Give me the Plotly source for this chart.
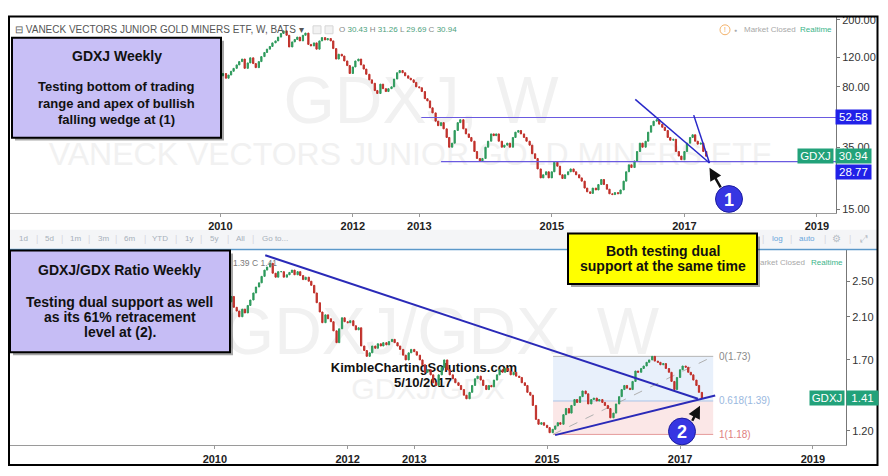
import math
import pandas as pd
import plotly.graph_objects as go

# ---------------- data ----------------
gdxj_first_open = 90
gdxj_close = [
    92, 98, 88,
    93, 96, 90, 94, 99, 103, 108, 113, 117, 103, 111, 119, 110, 104, 113, 121, 128, 134, 139, 146, 150, 158, 166, 172,
    162, 138, 148, 153, 158, 150, 162, 167, 143, 140, 146, 134, 150, 157, 152, 155, 150, 135, 117, 125, 122, 114, 107, 96,
    105, 114, 117, 108, 102, 95, 88, 84, 76, 73, 83, 78, 75, 78, 80, 89, 97, 100, 97, 93, 90, 88, 85, 80,
    79, 75, 68, 66, 60, 56, 50, 47, 49, 45, 40, 35, 37, 44, 49, 51, 45, 42, 40, 38, 33, 30, 29, 30,
    35, 38, 42, 41, 42, 38, 35, 36, 37, 35, 40, 43, 44, 42, 40, 38, 36, 32, 30, 26, 23, 24, 25, 23,
    25, 28.5, 27, 24, 22.8, 24, 25, 26, 25, 24, 23, 22, 20, 19, 18.6, 20, 19.5, 21, 22.5, 21, 19.7, 18.5, 18.3, 18.8,
    18.5, 19.5, 22, 25, 27.5, 26.5, 29, 33, 37, 35, 38, 43, 47, 50, 51, 48, 46, 44, 40, 38.5, 39, 33, 31, 29.5,
    33, 37, 40, 41.5, 38, 36.5, 37, 33, 30.94,
]

ratio_first_open = 2.28
ratio_close = [
    2.30, 2.38, 2.25,
    2.32, 2.40, 2.28, 2.34, 2.30, 2.26, 2.32, 2.20, 2.16, 2.10, 2.18, 2.14, 2.22, 2.28, 2.36, 2.43, 2.48, 2.56, 2.64, 2.68, 2.73, 2.60, 2.55, 2.62,
    2.62, 2.55, 2.58, 2.61, 2.64, 2.58, 2.62, 2.57, 2.52, 2.55, 2.50, 2.45, 2.36, 2.25, 2.15, 2.04, 2.12, 2.08, 2.05, 1.96, 1.85, 1.98, 2.09, 2.05,
    2.04, 2.06, 2.01, 1.97, 1.99, 1.82, 1.78, 1.73, 1.76, 1.82, 1.80, 1.84, 1.82, 1.85, 1.83, 1.86, 1.88, 1.85, 1.82, 1.79, 1.74, 1.70, 1.76, 1.79,
    1.77, 1.74, 1.70, 1.66, 1.60, 1.62, 1.58, 1.52, 1.50, 1.58, 1.64, 1.70, 1.62, 1.58, 1.55, 1.52, 1.50, 1.47, 1.43, 1.405, 1.45, 1.50, 1.55, 1.57,
    1.54, 1.50, 1.47, 1.50, 1.49, 1.54, 1.58, 1.62, 1.60, 1.63, 1.61, 1.58, 1.60, 1.57, 1.56, 1.52, 1.50, 1.45, 1.43, 1.36, 1.27, 1.24, 1.25, 1.234,
    1.22, 1.19, 1.21, 1.23, 1.25, 1.24, 1.30, 1.34, 1.31, 1.36, 1.40, 1.38, 1.42, 1.46, 1.44, 1.37, 1.40, 1.41, 1.39, 1.40, 1.38, 1.36, 1.34, 1.28,
    1.31, 1.37, 1.42, 1.47, 1.50, 1.48, 1.47, 1.53, 1.61, 1.60, 1.63, 1.65, 1.68, 1.70, 1.73, 1.69, 1.68, 1.66, 1.67, 1.63, 1.60, 1.53, 1.47, 1.56,
    1.62, 1.65, 1.64, 1.60, 1.58, 1.54, 1.50, 1.45, 1.41,
]
first_bar = '2009-11-15'

year_ticks = ['2010-01-01', '2012-01-01', '2013-01-01', '2015-01-01', '2017-01-01', '2019-01-01']
year_labels = ['2010', '2012', '2013', '2015', '2017', '2019']
gdxj_ticks = [15, 25, 35, 80, 120, 200]
ratio_ticks = [1.20, 1.70, 2.10, 2.50]

range_levels = [52.58, 28.77]
range_starts = ['2013-01-12', '2013-05-01']
wedge_a_x, wedge_a_y = ['2016-04-05', '2017-05-19'], [67.4, 28.2]
wedge_b_x, wedge_b_y = ['2017-02-21', '2017-05-19'], [54.3, 28.2]
ratio_down_x, ratio_down_y = ['2010-10-05', '2017-04-09'], [2.84, 1.405]
ratio_up_x, ratio_up_y = ['2015-02-14', '2017-07-13'], [1.176, 1.428]
fib_levels = [1.73, 1.39, 1.18]
fib_names = ['0', '0.618', '1']
fib_x = ['2015-02-03', '2017-07-02']
fib_label_x = '2017-07-22'
last_gdxj = 30.94
last_ratio = 1.41

# ---------------- helpers ----------------
# the page body has an 8px margin, so the figure is 880x468 and sits at (8, 8)
OFF = 8
W, H = 888 - OFF, 476 - OFF
FONT = 'Arial, Liberation Sans, sans-serif'
GREEN = '#2e9a5c'
RED = '#c0302a'


def px(x):
    return (x - OFF) / W


def py(y):
    return 1 - (y - OFF) / H


def ohlc(first_open, closes):
    opens = [first_open] + closes[:-1]
    highs = [max(o, c) for o, c in zip(opens, closes)]
    lows = [min(o, c) for o, c in zip(opens, closes)]
    return opens, highs, lows


fig = go.Figure()

d1 = pd.date_range(first_bar, periods=len(gdxj_close), freq='SMS')
o1, h1, l1 = ohlc(gdxj_first_open, gdxj_close)
d2 = pd.date_range(first_bar, periods=len(ratio_close), freq='SMS')
o2, h2, l2 = ohlc(ratio_first_open, ratio_close)

for d, o, h, l, c, xa, ya in [(d1, o1, h1, l1, gdxj_close, 'x', 'y'), (d2, o2, h2, l2, ratio_close, 'x2', 'y2')]:
    fig.add_trace(go.Candlestick(
        x=d, open=o, high=h, low=l, close=c, xaxis=xa, yaxis=ya,
        increasing=dict(line=dict(color=GREEN, width=1), fillcolor=GREEN),
        decreasing=dict(line=dict(color=RED, width=1), fillcolor=RED),
        whiskerwidth=0, showlegend=False, hoverinfo='skip'))

# trading range lines (upper)
for lvl, st in zip(range_levels, range_starts):
    fig.add_trace(go.Scatter(x=[st, '2019-04-16'], y=[lvl, lvl], mode='lines', xaxis='x', yaxis='y',
                             line=dict(color='#6a5ae0', width=1.2), showlegend=False, hoverinfo='skip'))
# wedge lines
for xs, ys in [(wedge_a_x, wedge_a_y), (wedge_b_x, wedge_b_y)]:
    fig.add_trace(go.Scatter(x=xs, y=ys, mode='lines', xaxis='x', yaxis='y',
                             line=dict(color='#2828c8', width=1.5), showlegend=False, hoverinfo='skip'))
# ratio trendlines
for xs, ys in [(ratio_down_x, ratio_down_y), (ratio_up_x, ratio_up_y)]:
    fig.add_trace(go.Scatter(x=xs, y=ys, mode='lines', xaxis='x2', yaxis='y2',
                             line=dict(color='#2a2ab8', width=2), showlegend=False, hoverinfo='skip'))

shapes = []
annotations = []


def prect(x0, y0, x1, y1, **kw):
    return dict(type='rect', xref='paper', yref='paper', x0=px(x0), x1=px(x1), y0=py(y1), y1=py(y0), **kw)


def wm(cx, cy, text, size, color='#f1f1f1', weight='normal', hw=330, hh=40):
    shapes.append(prect(cx - hw, cy - hh, cx + hw, cy + hh, layer='below', line=dict(width=0),
                        fillcolor='rgba(0,0,0,0)',
                        label=dict(text=text, textposition='middle center',
                                   font=dict(size=size, color=color, family=FONT, weight=weight))))


def txt(x, y, s, size, color='#000', xanchor='left', bold=False, **kw):
    annotations.append(dict(xref='paper', yref='paper', x=px(x), y=py(y), text=s, showarrow=False,
                            xanchor=xanchor, yanchor='middle',
                            font=dict(size=size, color=color, family=FONT, weight='bold' if bold else 'normal'),
                            **kw))


# watermarks (below candles)
wm(421, 92, 'GDXJ, W', 66)
wm(410, 150, 'VANECK VECTORS JUNIOR GOLD MINERS ETF', 32, hw=420)
wm(441, 325, 'GDXJ/GDX, W', 66)
wm(428, 387, 'GDXJ/GDX', 30)
wm(424, 367, 'KimbleChartingSolutions.com', 13, color='#111', weight='bold', hh=8)
wm(423, 382, '5/10/2017', 13, color='#111', weight='bold', hh=8)

# fibonacci retracement (lower)
shapes.append(dict(type='rect', xref='x2', yref='y2', x0=fib_x[0], x1=fib_x[1], y0=fib_levels[1], y1=fib_levels[0],
                   fillcolor='#e8f0fb', line=dict(width=0), layer='below'))
shapes.append(dict(type='rect', xref='x2', yref='y2', x0=fib_x[0], x1=fib_x[1], y0=fib_levels[2], y1=fib_levels[1],
                   fillcolor='#fbe7e7', line=dict(width=0), layer='below'))
for lvl, col in zip(fib_levels, ['#b4b4b4', '#a9c3e6', '#e59c9c']):
    shapes.append(dict(type='line', xref='x2', yref='y2', x0=fib_x[0], x1=fib_x[1], y0=lvl, y1=lvl,
                       line=dict(color=col, width=1), layer='below'))
shapes.append(dict(type='line', xref='x2', yref='y2', x0=fib_x[0], x1=fib_x[1], y0=fib_levels[2], y1=fib_levels[0],
                   line=dict(color='#b0b0b0', width=1, dash='dash'), layer='below'))
for lvl, nm, col in zip(fib_levels, fib_names, ['#8a8a8a', '#9ab8e0', '#e08080']):
    annotations.append(dict(xref='x2', yref='y2', x=fib_label_x, y=math.log10(lvl),
                            text=f'{nm}({lvl:.2f})', showarrow=False, xanchor='left', yanchor='middle',
                            font=dict(size=10, color=col, family=FONT)))

# toolbar strip between panels
shapes.append(prect(9, 229, 877, 248, fillcolor='#f4f5f7', line=dict(width=0), layer='below'))
shapes.append(dict(type='line', xref='paper', yref='paper', x0=px(9), x1=px(877), y0=py(249), y1=py(249),
                   line=dict(color='#5b98c9', width=1.5), layer='above'))
tb_items = [(23.8, '1d'), (49.9, '5d'), (75.4, '1m'), (103.2, '3m'), (129.3, '6m'), (159.9, 'YTD'),
            (188.8, '1y'), (214.3, '5y'), (240.9, 'All'), (275, 'Go to...')]
for x, s in tb_items:
    txt(x, 238, s, 8, '#a7b0ba', xanchor='center')
for x in [36.8, 62.4, 89, 116.2, 144.6, 175.7, 201.2, 227.9, 253.4, 762.5, 790.8, 825, 850]:
    txt(x, 238, '|', 9, '#d4d8dd', xanchor='center')
txt(777.5, 238, 'log', 8, '#6aa6dc', xanchor='center')
txt(807, 238, 'auto', 8, '#6aa6dc', xanchor='center')
txt(836, 238, '⚙', 10, '#b5bcc4', xanchor='center')
txt(864, 238, '⤢', 10, '#b5bcc4', xanchor='center')

# header of upper pane
txt(13, 27, '⊟ VANECK VECTORS JUNIOR GOLD MINERS ETF, W, BATS ▾', 10, '#555')
shapes.append(prect(313, 23, 321, 31, fillcolor='#f2f2f2', line=dict(color='#d6d6d6', width=1), layer='above'))
shapes.append(prect(325, 23, 333, 31, fillcolor='#f2f2f2', line=dict(color='#d6d6d6', width=1), layer='above'))
txt(337, 27, "O <span style='color:#4ca27c'>30.43</span> H <span style='color:#4ca27c'>31.26</span> "
             "L <span style='color:#4ca27c'>29.69</span> C <span style='color:#4ca27c'>30.94</span>", 8, '#888')
shapes.append(dict(type='circle', xref='paper', yref='paper', x0=px(720), x1=px(730), y0=py(32), y1=py(22),
                   line=dict(color='#f3b26b', width=1), layer='above'))
txt(725, 27, '!', 7, '#f0a050', xanchor='center')
txt(735, 27, '●', 5, '#aaaaaa', xanchor='center')
txt(742, 27, 'Market Closed', 8, '#a8a8a8')
txt(798, 27, 'Realtime', 8, '#3cb58a')

# header of lower pane (partly hidden behind the boxes)
txt(231, 263, '1.39 C 1.41', 8.5, '#7a7a7a')
txt(757.5, 262, 'arket Closed', 8, '#a8a8a8')
txt(809, 262, 'Realtime', 8, '#3cb58a')

# text boxes with shadows
for (x0, y0, x1, y1, fill) in [(12, 35, 221, 136, '#c8bff6'), (10, 250, 230, 353, '#c6bdf5'),
                               (568, 233, 757, 284, '#ffff00')]:
    shapes.append(prect(x0 + 3, y0 + 3, x1 + 3, y1 + 3, fillcolor='rgba(0,0,0,0.35)', line=dict(width=0),
                        layer='above'))
    shapes.append(prect(x0, y0, x1, y1, fillcolor=fill, line=dict(color='#000', width=2), layer='above'))

txt(116.5, 53, 'GDXJ Weekly', 14, '#111', xanchor='center', bold=True)
for y, s in [(84, 'Testing bottom of trading'), (101, 'range and apex of bullish'), (118, 'falling wedge at (1)')]:
    txt(116.5, y, s, 13, '#111', xanchor='center', bold=True)
txt(119, 270, 'GDXJ/GDX Ratio Weekly', 14, '#111', xanchor='center', bold=True)
for y, s in [(302, 'Testing dual support as well'), (317, 'as its 61% retracement'), (332, 'level at (2).')]:
    txt(120, y, s, 14, '#111', xanchor='center', bold=True)
for y, s in [(251, 'Both testing dual'), (266, 'support at the same time')]:
    txt(662.5, y, s, 14, '#111', xanchor='center', bold=True)


# price labels on the right axes
def plabel(x, w, yref, val, text, color, yshift=0):
    annotations.append(dict(xref='paper', yref=yref, x=px(x), y=math.log10(val), text=text, showarrow=False,
                            xanchor='left', yanchor='middle', width=w, height=12, borderpad=1, bgcolor=color,
                            yshift=yshift, font=dict(size=11.5, color='white', family=FONT)))


plabel(835, 33, 'y', range_levels[0], f'{range_levels[0]:.2f}', '#2121e8')
plabel(797, 33, 'y', last_gdxj, 'GDXJ', '#22a27a')
plabel(835, 33, 'y', last_gdxj, f'{last_gdxj:.2f}', '#22a27a')
plabel(835, 33, 'y', range_levels[1], f'{range_levels[1]:.2f}', '#2121e8', yshift=-10)
plabel(809, 32, 'y2', last_ratio, 'GDXJ', '#22a27a')
plabel(846, 29, 'y2', last_ratio, f'{last_ratio:.2f}', '#22a27a')

# numbered circles and arrows
for cx, cy, n in [(729, 198, '1'), (682, 433, '2')]:
    shapes.append(dict(type='circle', xref='paper', yref='paper', x0=px(cx - 13.5), x1=px(cx + 13.5),
                       y0=py(cy + 13.5), y1=py(cy - 13.5), fillcolor='#3636e2',
                       line=dict(color='#1e1ea0', width=1), layer='above'))
    txt(cx, cy + 1, n, 18, 'white', xanchor='center', bold=True)
for hx, hy, ax, ay in [(709.5, 166.5, 12, 21), (700, 407, -8.5, 16.5)]:
    annotations.append(dict(xref='paper', yref='paper', x=px(hx), y=py(hy), ax=ax, ay=ay, text='',
                            showarrow=True, arrowhead=2, arrowsize=1, arrowwidth=2.5, arrowcolor='#111'))

# outer frame
shapes.append(prect(9, 13.5, 877.5, 467, line=dict(color='#000', width=2), fillcolor='rgba(0,0,0,0)',
                    layer='above'))

xcommon = dict(tickvals=year_ticks, ticktext=[f'<b>{t}</b>' for t in year_labels],
               tickfont=dict(size=11, color='#222', family=FONT), showgrid=False, zeroline=False,
               showline=True, linecolor='#9a9a9a', linewidth=1, ticks='outside', ticklen=3,
               tickcolor='#9a9a9a', rangeslider=dict(visible=False), fixedrange=True)
ycommon = dict(type='log', side='right', showgrid=False, zeroline=False, showline=True, linecolor='#777',
               linewidth=1, ticks='outside', ticklen=3, tickcolor='#777',
               tickfont=dict(size=11, color='#333', family=FONT), fixedrange=True)

fig.update_layout(
    width=W, height=H, margin=dict(l=0, r=0, t=0, b=0),
    paper_bgcolor='white', plot_bgcolor='rgba(0,0,0,0)', showlegend=False,
    xaxis=dict(domain=[px(10), px(836)], anchor='y', range=['2006-10-30', '2019-04-16'], **xcommon),
    yaxis=dict(domain=[py(212), py(14)], anchor='x', range=[1.154, 2.3186], tickvals=gdxj_ticks,
               ticktext=[f'{v:.2f}' for v in gdxj_ticks], **ycommon),
    xaxis2=dict(domain=[px(10), px(846)], anchor='y2', range=['2006-12-02', '2019-07-02'], **xcommon),
    yaxis2=dict(domain=[py(447), py(250)], anchor='x2', range=[0.0487, 0.4635], tickvals=ratio_ticks,
                ticktext=[f'{v:.2f}' for v in ratio_ticks], **ycommon),
    shapes=shapes, annotations=annotations,
)

fig.write_html('out.html')
